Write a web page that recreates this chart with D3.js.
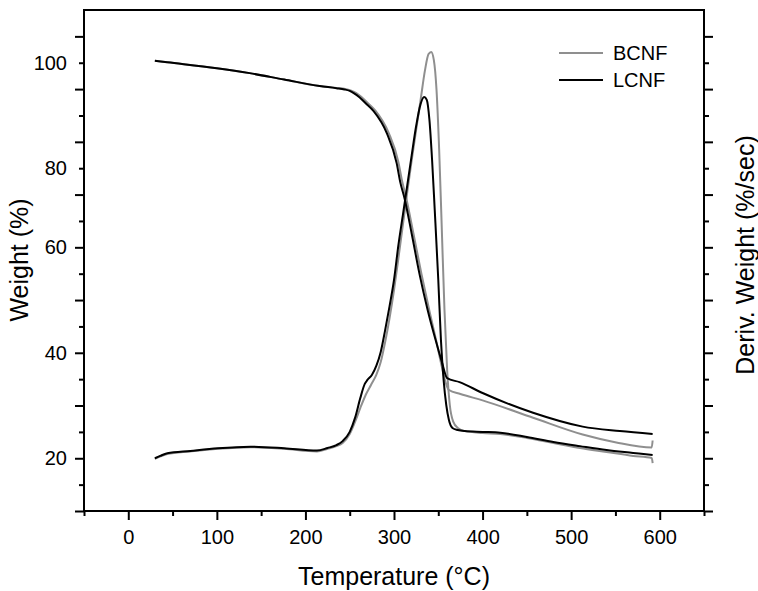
<!DOCTYPE html>
<html>
<head>
<meta charset="utf-8">
<script src="https://cdn.jsdelivr.net/npm/d3@7"></script>
<style>
    body { margin: 0; background: #ffffff; }
    text { font-family: "Liberation Sans", Arial, sans-serif; fill: #000; }
</style>
</head>
<body>
<div id="chart"></div>
<script>
// temperature (C), weight (%)
var lcnfWeight = [[30,100.4],[44,100.1],[100,98.9],[137,97.9],[176,96.6],[216,95.3],[235,94.85],[244,94.6],
    [250,94.3],[255,93.8],[261,93.0],[268,91.8],[277,90.2],[292,85.7],[303,79.7],[307,75.9],[312,72.5],
    [320,65.4],[329,57.1],[338,50.0],[347,43.9],[354,39.5],[360,36.2],[374,35.4],[400,33.2],[457,29.2],
    [513,26.4],[555,25.5],[592,24.9]];
var bcnfWeight = [[30,100.4],[44,100.1],[100,98.9],[137,97.9],[176,96.6],[216,95.3],[235,94.9],[245,94.7],
    [251,94.4],[257,93.9],[263,93.1],[270,91.9],[279,90.3],[294,85.8],[305,79.9],[309,76.2],[314,72.5],
    [322,65.4],[331,57.3],[340,49.8],[348,43.5],[354,38.5],[358,35.5],[362,33.8],[375,33.0],[400,31.7],
    [457,28.2],[513,24.8],[551,23.2],[591,22.2],[592,23.6]];
// temperature (C), derivative weight (%/sec)
var lcnfDeriv = [[30,0.200],[36,0.209],[44,0.219],[70,0.228],[101,0.238],[138,0.244],[176,0.238],[213,0.229],
    [225,0.239],[235,0.250],[242,0.265],[250,0.300],[256,0.353],[262,0.429],[267,0.482],[270,0.497],
    [275,0.516],[280,0.550],[285,0.603],[290,0.686],[295,0.777],[300,0.876],[305,1.009],[310,1.122],
    [315,1.236],[320,1.350],[325,1.460],[330,1.543],[334,1.570],[337,1.559],[340,1.483],[343,1.331],
    [346,1.141],[350,0.876],[353,0.648],[356,0.497],[359,0.402],[362,0.345],[366,0.315],[372,0.307],
    [380,0.303],[400,0.300],[420,0.297],[450,0.281],[480,0.262],[510,0.246],[540,0.231],[570,0.220],[592,0.212]];
var bcnfDeriv = [[30,0.198],[44,0.216],[70,0.226],[101,0.236],[138,0.242],[176,0.236],[213,0.226],
    [225,0.236],[235,0.246],[242,0.258],[250,0.292],[256,0.338],[262,0.391],[268,0.440],[274,0.478],
    [280,0.516],[285,0.565],[290,0.641],[295,0.732],[300,0.838],[305,0.959],[310,1.085],[315,1.210],
    [320,1.331],[325,1.445],[330,1.558],[335,1.672],[339,1.733],[342,1.741],[345,1.710],[348,1.597],
    [351,1.369],[354,1.066],[357,0.762],[360,0.535],[363,0.402],[367,0.338],[372,0.315],[380,0.303],
    [400,0.296],[420,0.292],[450,0.277],[480,0.258],[510,0.239],[540,0.224],[570,0.209],[591,0.201],[592,0.182]];

var tempLabels = [0, 100, 200, 300, 400, 500, 600];
var weightLabels = ["100", "80", "60", "40", "20"];
var weightLabelAt = [1.7, 1.3, 1.0, 0.6, 0.2];   // derivative-axis value where each weight label sits
var seriesNames = ["BCNF", "LCNF"];
var seriesColors = ["#8f8f8f", "#000000"];

var margin = { top: 10, right: 54, bottom: 80, left: 84 };
var width = 758 - margin.left - margin.right;
var height = 511 - margin.top;

var x = d3.scaleLinear().domain([-50, 650]).range([0, width]);
var yDeriv = d3.scaleLinear().domain([0, 1.9]).range([height, 0]);
// weight scale is pinned to where the "20" and "100" labels sit
var yWeight = d3.scaleLinear().domain([20, 100]).range([yDeriv(0.2), yDeriv(1.7)]);

var svg = d3.select("#chart").append("svg")
    .attr("width", 758)
    .attr("height", 591)
    .append("g")
    .attr("transform", "translate(" + margin.left + "," + margin.top + ")");

var derivTicks = d3.range(0, 19).map(function (i) { return i / 10; });
var derivMajor = derivTicks.filter(function (d, i) { return i % 2 == 0; });
var derivMinor = derivTicks.filter(function (d, i) { return i % 2 == 1; });
var tempMajor = d3.range(-100, 701, 100).filter(function (d) { return d >= -50 && d <= 650; });
var tempMinor = d3.range(-50, 651, 100);

function tickAxis(g, axis) {
    g.call(axis);
    g.select(".domain").remove();
    g.selectAll("line").attr("stroke", "#000").attr("stroke-width", 2);
    g.selectAll("text").attr("font-size", 20).attr("font-family", "Liberation Sans, Arial, sans-serif");
}

// bottom axis
svg.append("g").attr("transform", "translate(0," + height + ")")
    .call(tickAxis, d3.axisBottom(x).tickValues(tempMajor).tickSize(9).tickPadding(10)
        .tickFormat(function (d) { return tempLabels.indexOf(d) >= 0 ? d : ""; }));
svg.append("g").attr("transform", "translate(0," + height + ")")
    .call(tickAxis, d3.axisBottom(x).tickValues(tempMinor).tickSize(5).tickFormat(""));

// left axis
svg.append("g")
    .call(tickAxis, d3.axisLeft(yDeriv).tickValues(derivMajor).tickSize(9).tickFormat(""));
svg.append("g")
    .call(tickAxis, d3.axisLeft(yDeriv).tickValues(derivMinor).tickSize(5).tickFormat(""));
svg.append("g")
    .call(tickAxis, d3.axisLeft(yDeriv).tickValues(weightLabelAt).tickSize(0).tickPadding(17)
        .tickFormat(function (d, i) { return weightLabels[i]; }));

// right axis
svg.append("g").attr("transform", "translate(" + width + ",0)")
    .call(tickAxis, d3.axisRight(yDeriv).tickValues(derivMajor).tickSize(9).tickFormat(""));
svg.append("g").attr("transform", "translate(" + width + ",0)")
    .call(tickAxis, d3.axisRight(yDeriv).tickValues(derivMinor).tickSize(5).tickFormat(""));

// frame
svg.append("rect")
    .attr("width", width)
    .attr("height", height)
    .attr("fill", "none")
    .attr("stroke", "#000")
    .attr("stroke-width", 2);

var weightLine = d3.line()
    .x(function (d) { return x(d[0]); })
    .y(function (d) { return yWeight(d[1]); })
    .curve(d3.curveMonotoneX);
var derivLine = d3.line()
    .x(function (d) { return x(d[0]); })
    .y(function (d) { return yDeriv(d[1]); })
    .curve(d3.curveMonotoneX);

var curves = [
    { data: bcnfWeight, line: weightLine, color: seriesColors[0] },
    { data: bcnfDeriv, line: derivLine, color: seriesColors[0] },
    { data: lcnfWeight, line: weightLine, color: seriesColors[1] },
    { data: lcnfDeriv, line: derivLine, color: seriesColors[1] }
];
curves.forEach(function (c) {
    svg.append("path")
        .datum(c.data)
        .attr("fill", "none")
        .attr("stroke", c.color)
        .attr("stroke-width", 2)
        .attr("d", c.line);
});

// legend
var legend = svg.selectAll(".legend")
    .data(seriesNames)
    .enter().append("g")
    .attr("transform", function (d, i) { return "translate(" + (559 - margin.left) + "," + (53 + i * 27 - margin.top) + ")"; });
legend.append("line")
    .attr("x1", 0).attr("x2", 44)
    .attr("stroke", function (d, i) { return seriesColors[i]; })
    .attr("stroke-width", 2);
legend.append("text")
    .attr("x", 54)
    .attr("dy", "0.35em")
    .attr("font-size", 20)
    .text(function (d) { return d; });

// axis titles
svg.append("text")
    .attr("x", width / 2)
    .attr("y", 585 - margin.top)
    .attr("text-anchor", "middle")
    .attr("font-size", 25)
    .text("Temperature (°C)");
svg.append("text")
    .attr("transform", "translate(" + (28 - margin.left) + "," + (260 - margin.top) + ") rotate(-90)")
    .attr("text-anchor", "middle")
    .attr("font-size", 25)
    .text("Weight (%)");
svg.append("text")
    .attr("transform", "translate(" + (754 - margin.left) + "," + (255 - margin.top) + ") rotate(-90)")
    .attr("text-anchor", "middle")
    .attr("font-size", 25)
    .text("Deriv. Weight (%/sec)");
</script>
</body>
</html>
